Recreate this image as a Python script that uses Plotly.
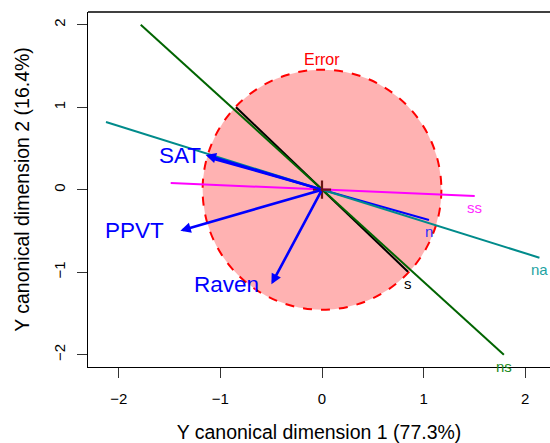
import plotly.graph_objects as go

# Hypothesis terms (1 df each, so each HE "ellipse" collapses to a line)
terms = ["n", "s", "ns", "na", "ss"]
term_x0 = [-1.053, -0.846, -1.784, -2.126, -1.489]
term_y0 = [0.367, 1.000, 2.000, 0.820, 0.081]
term_x1 = [1.053, 0.846, 1.790, 2.140, 1.503]
term_y1 = [-0.367, -0.994, -2.000, -0.824, -0.076]

# Response structure vectors
variables = ["SAT", "PPVT", "Raven"]
vec_x = [-1.145, -1.394, -0.498]
vec_y = [0.420, -0.497, -1.147]

# Error ellipse half-axes in canonical units
error_rx = 1.175
error_ry = 1.455

term_colors = {"n": "#0000FF", "s": "#000000", "ns": "#006400",
               "na": "#008B8B", "ss": "#FF00FF"}
label_colors = {"n": "#2B2BFF", "s": "#000000", "ns": "#1E8A1E",
                "na": "#1FA3A3", "ss": "#FF2BFF"}
vec_label_gap = {"SAT": 3, "PPVT": 14, "Raven": 10}

FONT = "Liberation Sans, Arial, Helvetica, sans-serif"

fig = go.Figure()

# Error ellipse
fig.add_shape(type="circle", xref="x", yref="y",
              x0=-error_rx, x1=error_rx, y0=-error_ry, y1=error_ry,
              fillcolor="rgba(255,0,0,0.3)",
              line=dict(color="#FF0000", width=2, dash="dash"),
              layer="below")
fig.add_annotation(x=0, y=error_ry, text="Error", showarrow=False,
                   yanchor="bottom", xanchor="center", yshift=0,
                   font=dict(family=FONT, size=16, color="#FF0000"))

# Hypothesis lines
for t, xa, ya, xb, yb in zip(terms, term_x0, term_y0, term_x1, term_y1):
    fig.add_trace(go.Scatter(x=[xa, xb], y=[ya, yb], mode="lines",
                             line=dict(color=term_colors[t], width=2),
                             showlegend=False, hoverinfo="skip"))
    fig.add_annotation(x=xb, y=yb, text=t, showarrow=False,
                       yanchor="top", xanchor="center", yshift=-1,
                       font=dict(family=FONT, size=15, color=label_colors[t]))

# Centre mark
fig.add_trace(go.Scatter(x=[0], y=[0], mode="markers",
                         marker=dict(symbol="cross-thin", size=13,
                                     line=dict(color="#6A1515", width=2.2)),
                         showlegend=False, hoverinfo="skip"))

# Structure vectors
for v, vx, vy in zip(variables, vec_x, vec_y):
    fig.add_annotation(x=vx, y=vy, ax=0, ay=0, xref="x", yref="y",
                       axref="x", ayref="y", text="", showarrow=True,
                       arrowhead=2, arrowsize=0.8, arrowwidth=2.6,
                       arrowcolor="#0000FF")
    fig.add_annotation(x=vx, y=vy, text=v, showarrow=False,
                       xanchor="right", yanchor="middle",
                       xshift=-vec_label_gap[v],
                       font=dict(family=FONT, size=22.5, color="#0000FF"))

# Top frame line
fig.add_shape(type="line", xref="paper", yref="paper",
              x0=0, x1=1, y0=1, y1=1, line=dict(color="black", width=1.3))

axis_common = dict(showgrid=False, zeroline=False, showline=True,
                   linecolor="black", linewidth=1.3, mirror=False,
                   ticks="outside", ticklen=10, tickcolor="#333333",
                   tickwidth=1.3, tickvals=[-2, -1, 0, 1, 2],
                   tickfont=dict(family=FONT, size=15, color="black"),
                   automargin=False)

fig.update_layout(
    width=550, height=443,
    margin=dict(l=88, r=0, t=12, b=76),
    paper_bgcolor="white", plot_bgcolor="white",
    xaxis=dict(range=[-2.303, 2.244], ticklabelstandoff=8,
               title=dict(text="Y canonical dimension 1 (77.3%)", standoff=20,
                          font=dict(family=FONT, size=19.5, color="black")),
               **axis_common),
    yaxis=dict(range=[-2.149, 2.154], tickangle=-90, ticklabelstandoff=6,
               title=dict(text="Y canonical dimension 2 (16.4%)", standoff=16,
                          font=dict(family=FONT, size=19.5, color="black")),
               **axis_common),
)

fig.write_html("out.html")
